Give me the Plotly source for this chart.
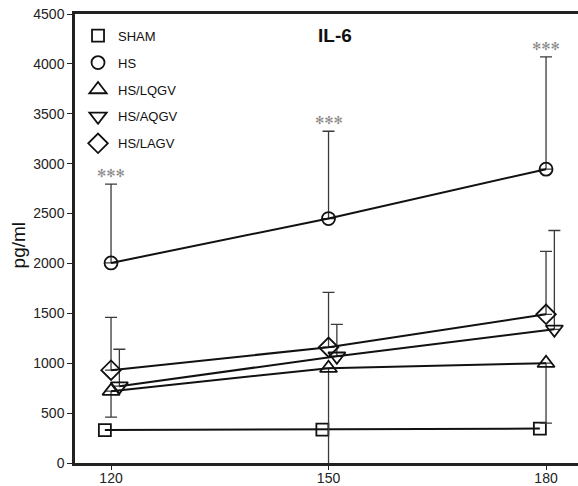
import plotly.graph_objects as go

times = [120, 150, 180]
series_names = ["SHAM", "HS", "HS/LQGV", "HS/AQGV", "HS/LAGV"]
sham = [330, 335, 345]
hs = [2005, 2450, 2945]
hs_err_up = [790, 875, 1125]
lqgv = [720, 950, 1000]
lqgv_err_down = [260, 1000, 600]
aqgv = [770, 1070, 1340]
aqgv_err_up = [370, 320, 990]
lagv = [930, 1160, 1490]
lagv_err_up = [530, 550, 630]
y_ticks = [0, 500, 1000, 1500, 2000, 2500, 3000, 3500, 4000, 4500]
sig_label = "✻✻✻"

FONT = "Liberation Sans, Arial, Helvetica, sans-serif"
ERR_COLOR = "#3a3a3a"

series = [
    dict(name="SHAM", y=sham, symbol="square-open", size=12, dx=-0.85, up=None, down=None),
    dict(name="HS", y=hs, symbol="circle-open", size=13, dx=0.0, up=hs_err_up, down=None),
    dict(name="HS/LQGV", y=lqgv, symbol="triangle-up-open", size=15, dx=0.0, up=None, down=lqgv_err_down),
    dict(name="HS/AQGV", y=aqgv, symbol="triangle-down-open", size=15, dx=1.15, up=aqgv_err_up, down=None),
    dict(name="HS/LAGV", y=lagv, symbol="diamond-open", size=15, dx=0.0, up=lagv_err_up, down=None),
]

fig = go.Figure()
for i, s in enumerate(series):
    err = None
    if s["up"] is not None or s["down"] is not None:
        up = s["up"] if s["up"] is not None else [0] * len(times)
        dn = s["down"] if s["down"] is not None else [0] * len(times)
        err = dict(type="data", symmetric=False, array=up, arrayminus=dn,
                   color=ERR_COLOR, thickness=1.3, width=6)
    fig.add_trace(go.Scatter(
        x=[t + s["dx"] for t in times], y=s["y"], mode="lines+markers",
        line=dict(color="#111", width=2),
        marker=dict(symbol=s["symbol"], size=s["size"], color="#111",
                    line=dict(width=1.8, color="#111")),
        error_y=err, showlegend=False, cliponaxis=True,
    ))
    # legend-only marker entry
    fig.add_trace(go.Scatter(
        x=[None], y=[None], mode="markers", name=s["name"], legendgroup=s["name"],
        marker=dict(symbol=s["symbol"], size=s["size"], color="#111",
                    line=dict(width=1.8, color="#111")),
        showlegend=True,
    ))

# significance marks above HS error bars
for t, v, e in zip(times, hs, hs_err_up):
    fig.add_annotation(x=t, y=v + e, xref="x", yref="y", text=sig_label,
                       showarrow=False, yanchor="bottom", yshift=2,
                       font=dict(family="DejaVu Sans", size=11, color="#888"))

fig.add_annotation(x=150.9, y=4280, xref="x", yref="y", text="<b>IL-6</b>",
                   showarrow=False, font=dict(family=FONT, size=19, color="#111"))
fig.add_annotation(x=-0.113, y=0.485, xref="paper", yref="paper", text="pg/ml",
                   textangle=-90, showarrow=False, xanchor="center", yanchor="middle",
                   font=dict(family=FONT, size=19, color="#111"))

fig.update_layout(
    width=578, height=486,
    margin=dict(l=75, r=0, t=14, b=23, autoexpand=False),
    paper_bgcolor="white", plot_bgcolor="white",
    font=dict(family=FONT, size=14, color="#222"),
    legend=dict(x=0.006, y=0.985, xanchor="left", yanchor="top",
                bgcolor="rgba(0,0,0,0)", tracegroupgap=7,
                font=dict(family=FONT, size=13, color="#111"),
                itemwidth=30),
    xaxis=dict(range=[115.03, 184.41], tickvals=times, ticktext=[str(t) for t in times],
               showgrid=False, zeroline=False, showline=True, linecolor="#222",
               linewidth=2.5, mirror=True, ticks="outside", ticklen=4, tickwidth=1,
               tickcolor="#222", tickfont=dict(size=14, color="#222"),
               ticklabelstandoff=-4),
    yaxis=dict(range=[0, 4500], tickvals=y_ticks, showgrid=False, zeroline=False,
               showline=True, linecolor="#222", linewidth=2.5, mirror=False,
               ticks="outside", ticklen=5, tickwidth=1, tickcolor="#222",
               tickfont=dict(size=14, color="#222")),
)

fig.write_html("out.html", config={"displayModeBar": False},
               post_script="document.body.style.margin='0';document.body.style.padding='0';document.body.style.overflow='hidden';")
